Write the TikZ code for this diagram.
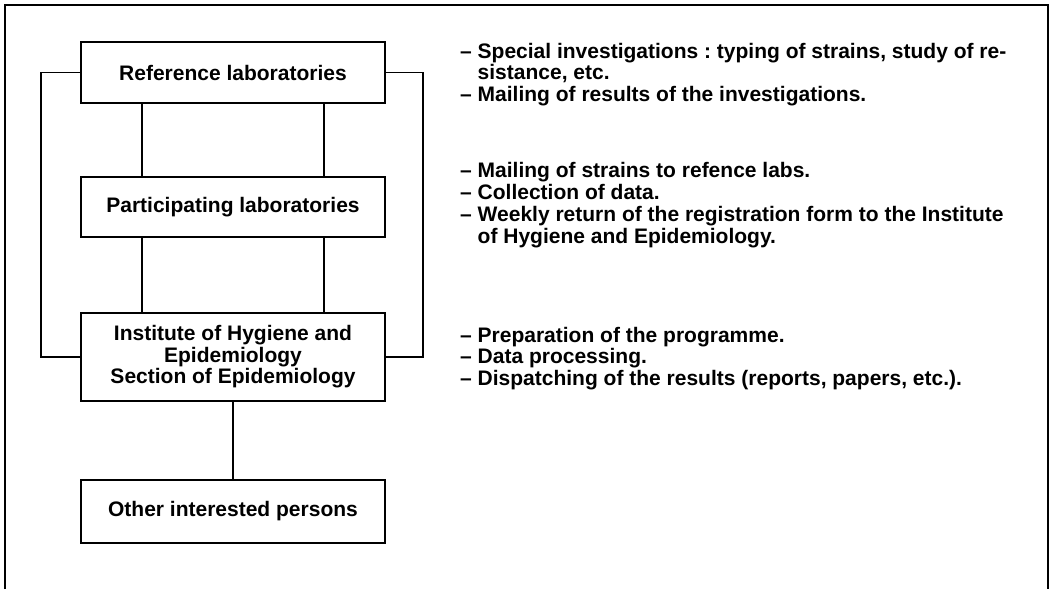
\documentclass[tikz,border=0pt]{standalone}
\usepackage{fontspec}
\setmainfont{Liberation Sans}
\usepackage{tikz}
\newcommand{\orgfont}{\fontsize{21}{21.5}\selectfont\bfseries\frenchspacing}
\newcommand{\hangin}{\hspace*{17.5pt}}
\tikzset{
  orgbox/.style={draw, line width=1.6pt, minimum width=304, inner sep=0pt,
    align=center, font=\orgfont},
  orgline/.style={line width=1.6pt},
  notes/.style={anchor=north west, inner sep=0pt, align=left, font=\orgfont}
}
\begin{document}
\begin{tikzpicture}[x=1pt, y=-1pt]
\useasboundingbox (0,0) rectangle (1051,589);
\draw[orgline, line width=2pt] (5,589)--(5,5)--(1048,5)--(1048,589);
% boxes
\node[orgbox, minimum height=61] (reflab) at (233,72.5) {Reference laboratories};
\node[orgbox, minimum height=60] (partlab) at (233,207) {Participating laboratories};
\node[orgbox, minimum height=88] (inst) at (233,357) {Institute of Hygiene and\\Epidemiology\\Section of Epidemiology};
\node[orgbox, minimum height=63] (others) at (233,511.5) {Other interested persons};
% links
\foreach \dx in {-91,91}{
  \draw[orgline] ([xshift=\dx]reflab.south) -- ([xshift=\dx]partlab.north);
  \draw[orgline] ([xshift=\dx]partlab.south) -- ([xshift=\dx]inst.north);
}
\draw[orgline] (reflab.west) -- ++(-39,0) |- (inst.west);
\draw[orgline] (reflab.east) -- ++(37,0) |- (inst.east);
\draw[orgline] (inst.south) -- (others.north);
% tasks
\node[notes] (refnotes) at (460,42.7) {-- Special investigations : typing of strains, study of re-\\
  \hangin sistance, etc.\\
  -- Mailing of results of the investigations.};
\node[notes] (partnotes) at (460,161.7) {-- Mailing of strains to refence labs.\\[0.5pt]
  -- Collection of data.\\[0.5pt]
  -- Weekly return of the registration form to the Institute\\[0.5pt]
  \hangin of Hygiene and Epidemiology.};
\node[notes] (instnotes) at (460,326.7) {-- Preparation of the programme.\\
  -- Data processing.\\
  -- Dispatching of the results (reports, papers, etc.).};
\end{tikzpicture}
\end{document}
